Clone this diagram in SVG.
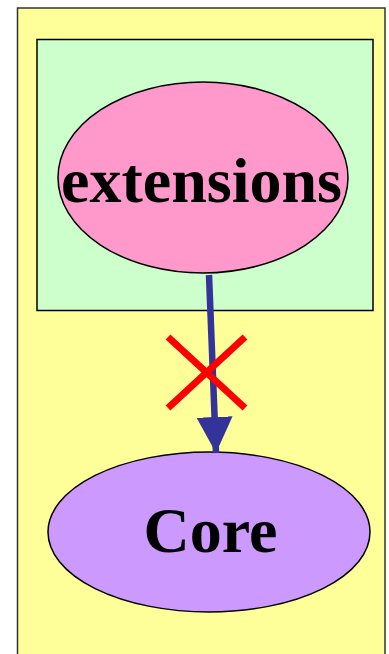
<svg xmlns="http://www.w3.org/2000/svg" width="389" height="654" viewBox="0 0 389 654">
<style>
.lbl{font-family:"Liberation Serif","Times New Roman",serif;font-weight:bold;font-size:64px;fill:#000;text-anchor:middle}
.shape{stroke:#000;stroke-width:1.5}
</style>
<defs>
<marker id="ah" markerUnits="userSpaceOnUse" markerWidth="38" markerHeight="36" refX="36" refY="18" orient="auto">
<path d="M0,0 L36,18 L0,36 Z" fill="#333399"/>
</marker>
</defs>
<rect width="389" height="654" fill="#fff"/>
<g id="outer">
<rect x="17.5" y="8" width="367.5" height="660" fill="#ffff99" stroke="#333" stroke-width="1.5"/>
</g>
<g id="cluster">
<rect x="37" y="39.5" width="336" height="271" fill="#ccffcc" class="shape"/>
</g>
<g id="extensions">
<ellipse cx="203" cy="177.5" rx="145" ry="95.5" fill="#ff99cc" class="shape"/>
<text x="201.5" y="202" class="lbl">extensions</text>
</g>
<g id="core">
<ellipse cx="209" cy="532" rx="161" ry="80" fill="#cc99ff" class="shape"/>
<text x="210.5" y="552" class="lbl">Core</text>
</g>
<g id="connectors">
<line x1="209" y1="275" x2="216" y2="453" stroke="#333399" stroke-width="6.5" marker-end="url(#ah)"/>
</g>
<g id="cross" stroke="#ff0000" stroke-width="7">
<line x1="168" y1="337" x2="245" y2="408"/>
<line x1="245" y1="337" x2="168" y2="408"/>
</g>
</svg>
